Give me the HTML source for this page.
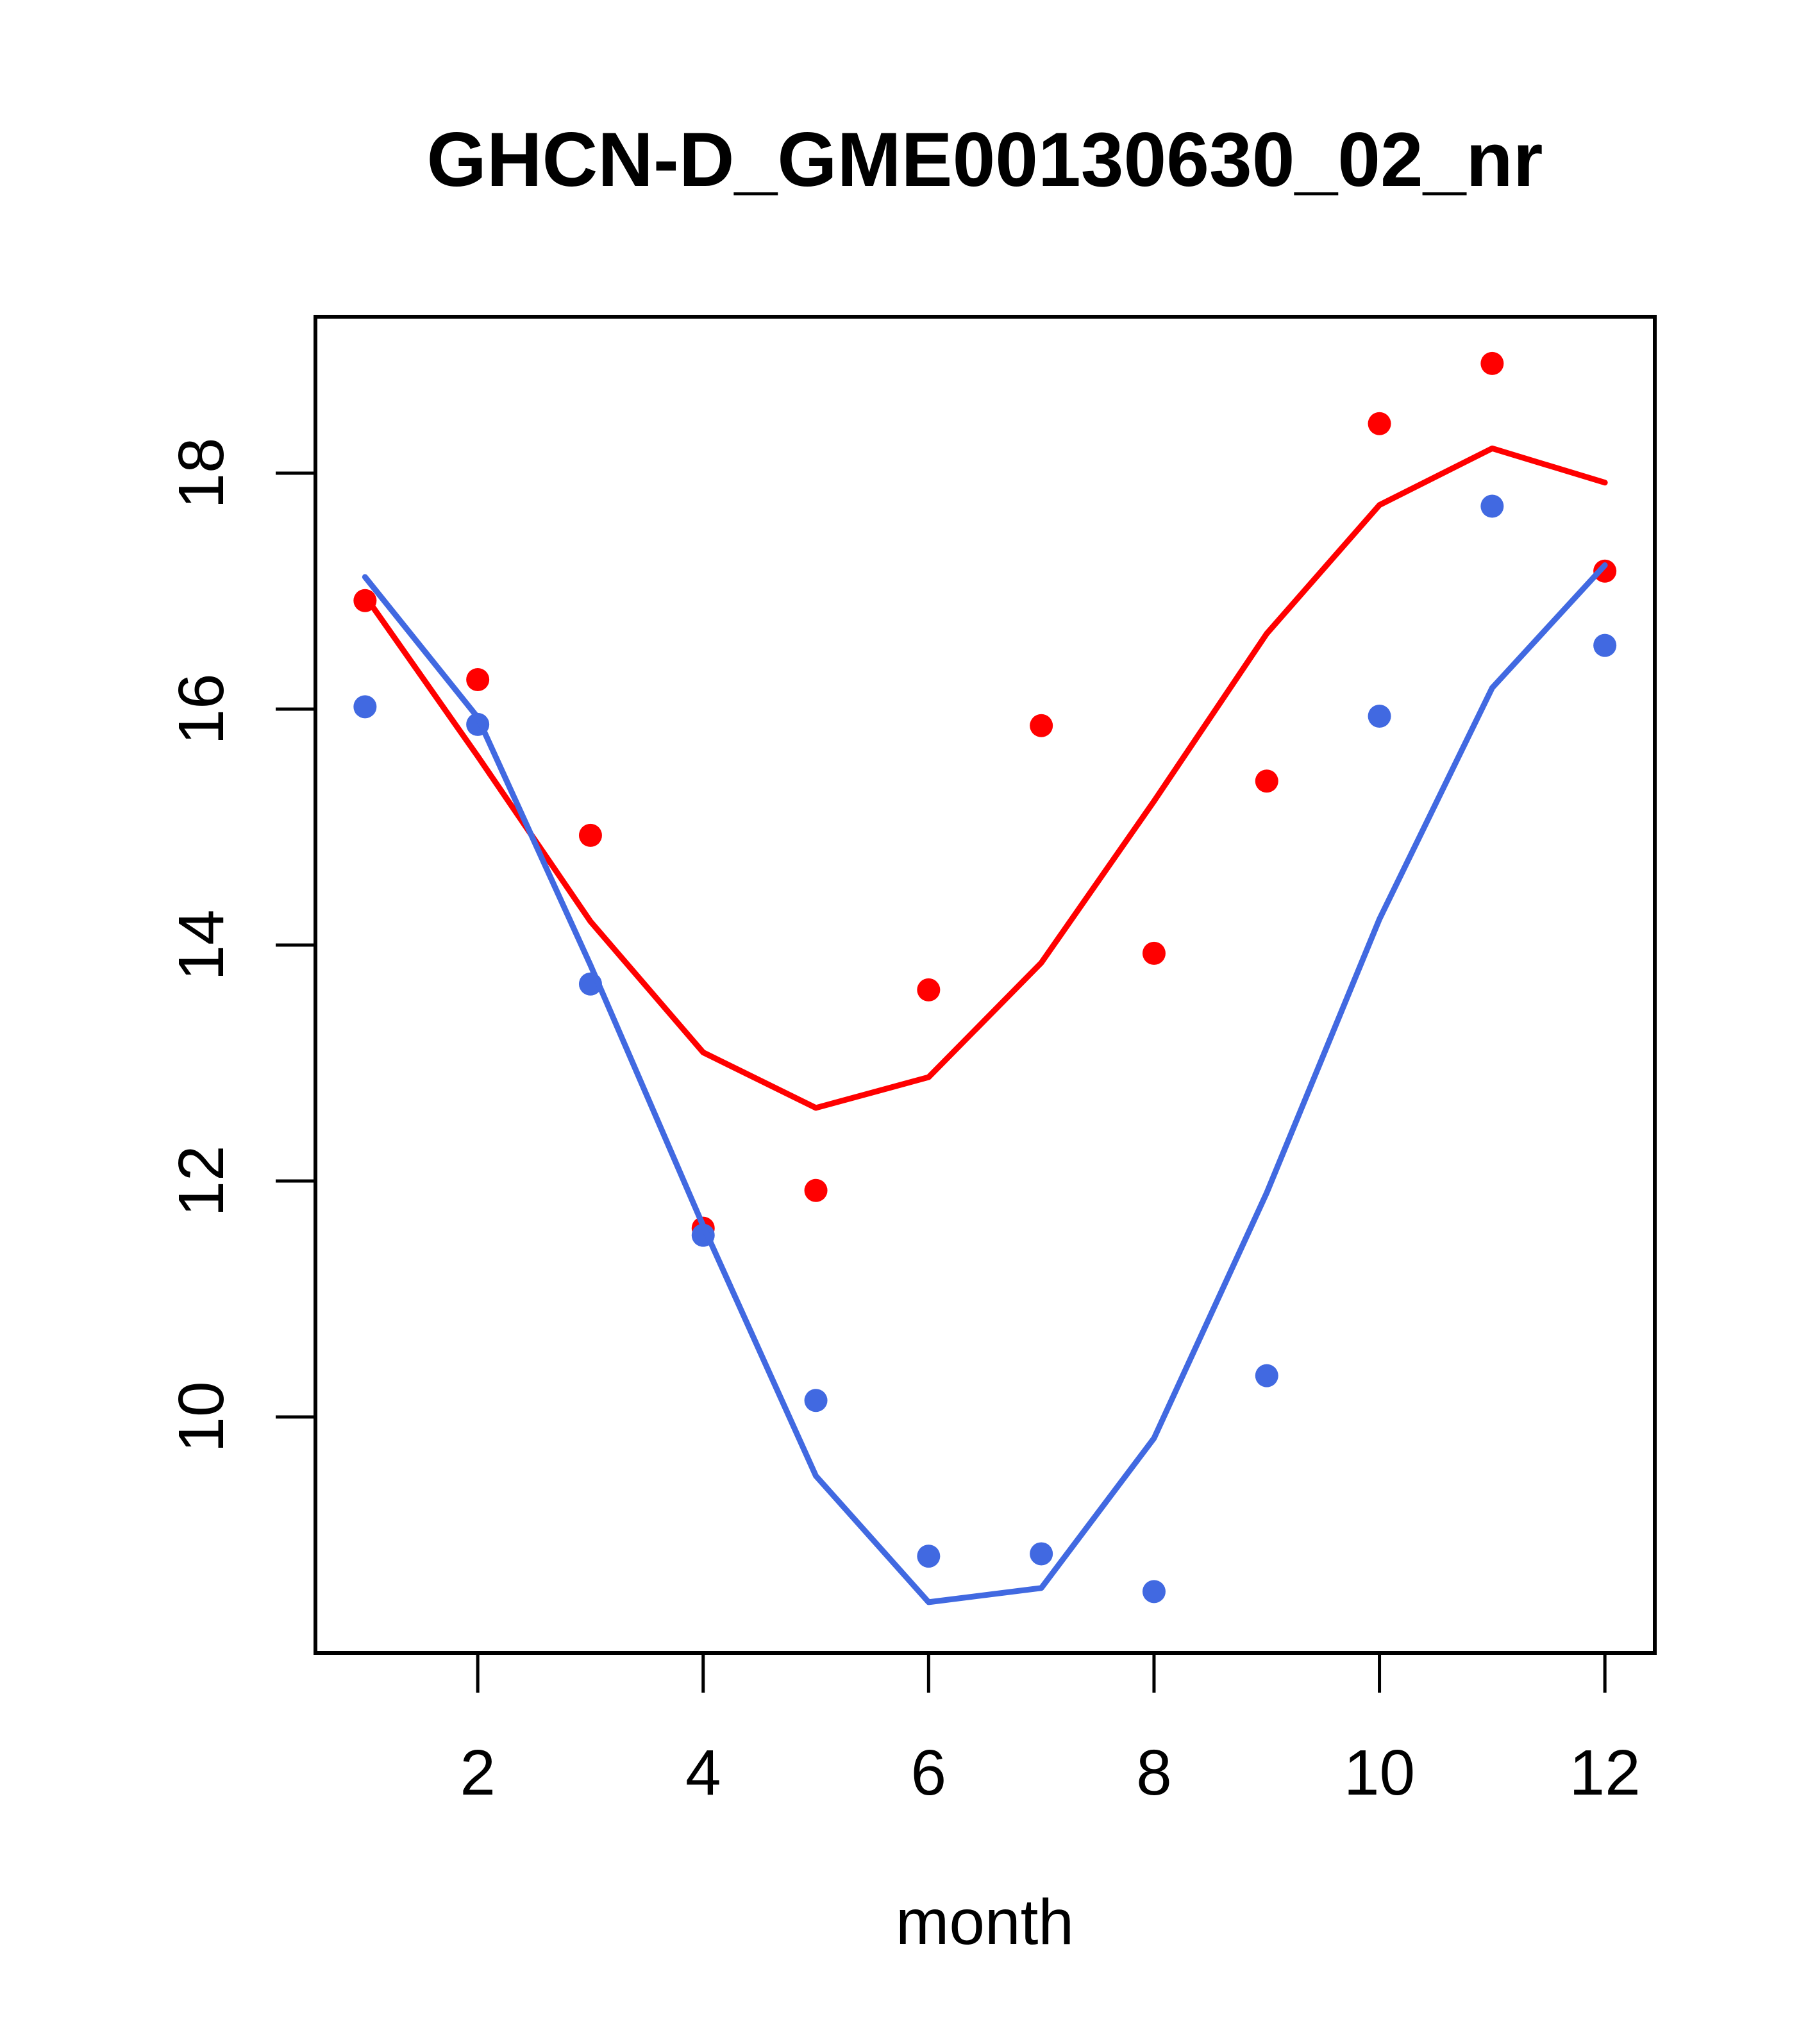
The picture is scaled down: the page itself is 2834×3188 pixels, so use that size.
<!DOCTYPE html>
<html><head><meta charset="utf-8"><style>html,body{margin:0;padding:0;background:#fff}svg{display:block}</style></head>
<body>
<svg id="chart" width="2834" height="3188" viewBox="0 0 2834 3188" xmlns="http://www.w3.org/2000/svg" font-family="'Liberation Sans', sans-serif">
<rect width="2834" height="3188" fill="#fff"/>
<text x="1536" y="290" font-size="120" font-weight="bold" text-anchor="middle">GHCN-D_GME00130630_02_nr</text>
<text x="1536" y="3032" font-size="100" text-anchor="middle">month</text>
<g id="marks"></g>
<rect x="492" y="494" width="2089" height="2084" fill="none" stroke="#000" stroke-width="6"/>
</svg>
<script>
const months = [1,2,3,4,5,6,7,8,9,10,11,12];
const redPoints = [16.92,16.25,14.93,11.60,11.92,13.62,15.86,13.93,15.39,18.42,18.93,17.17];
const redLine = [16.96,15.60,14.20,13.09,12.62,12.88,13.85,15.22,16.64,17.73,18.21,17.92];
const bluePoints = [16.02,15.87,13.67,11.54,10.14,8.82,8.84,8.52,10.35,15.94,17.72,16.54];
const blueLine = [17.12,15.93,13.83,11.62,9.50,8.43,8.55,9.82,11.90,14.22,16.18,17.22];
const xTicks = [2,4,6,8,10,12];
const yTicks = [10,12,14,16,18];

const NS = "http://www.w3.org/2000/svg";
function xs(m){ return 492 + (m - 0.56) * 175.8; }
function ys(v){ return 738 + (18 - v) * 184; }
const g = document.getElementById('marks');
function mk(tag, attrs){ const e = document.createElementNS(NS, tag); for (const k in attrs) e.setAttribute(k, attrs[k]); g.appendChild(e); return e; }

xTicks.forEach(t => {
  const l = mk('line', {x1: xs(t), x2: xs(t), y1: 2578, y2: 2640, stroke: '#000', 'stroke-width': 5});
  
  
  const tx = mk('text', {x: xs(t), y: 2799, 'font-size': 100, 'text-anchor': 'middle'});
  tx.textContent = t;
  
  
});
yTicks.forEach(t => {
  const l = mk('line', {x1: 430, x2: 492, y1: ys(t), y2: ys(t), stroke: '#000', 'stroke-width': 5});
  
  
  const tx = mk('text', {x: 348, y: ys(t), 'font-size': 100, 'text-anchor': 'middle', transform: 'rotate(-90 348 ' + ys(t) + ')'});
  tx.textContent = t;
  
  
});
function drawLine(vals, color, name){
  const p = mk('polyline', {points: months.map((m,i) => xs(m) + ',' + ys(vals[i])).join(' '), fill: 'none', stroke: color, 'stroke-width': 9, 'stroke-linecap': 'round', 'stroke-linejoin': 'round'});
  
  
}
function drawPoints(vals, color, name){
  months.forEach((m,i) => {
    const c = mk('circle', {cx: xs(m), cy: ys(vals[i]), r: 18, fill: color});
    
    
  });
}
drawPoints(redPoints, '#ff0000', 'red-point');
drawPoints(bluePoints, '#4169e1', 'blue-point');
drawLine(redLine, '#ff0000', 'red-line');
drawLine(blueLine, '#4169e1', 'blue-line');
</script>
</body></html>
